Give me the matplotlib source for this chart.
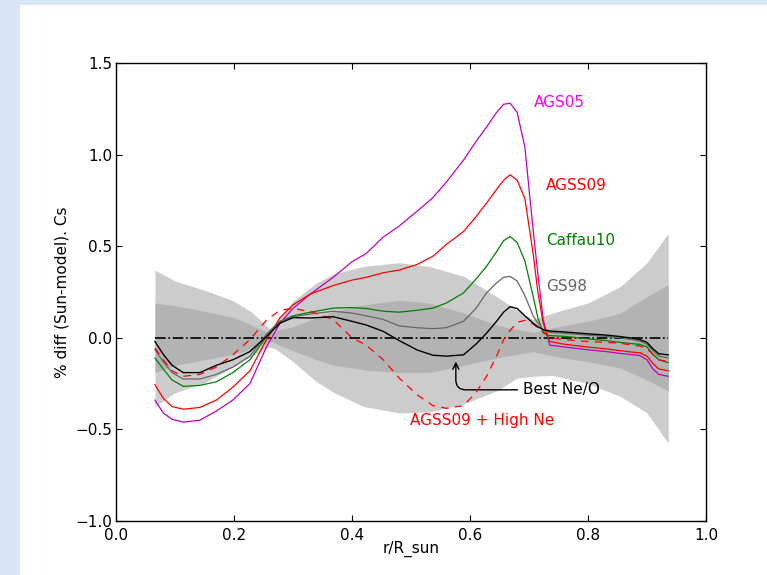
import matplotlib
matplotlib.use('Agg')
import matplotlib.pyplot as plt
from matplotlib.patches import Rectangle
import numpy as np

# radius grid for the model curves
r = [0.066, 0.08, 0.095, 0.114, 0.142, 0.17, 0.198, 0.227, 0.255, 0.278,
     0.30, 0.33, 0.368, 0.40, 0.424, 0.453, 0.48, 0.51, 0.537, 0.56,
     0.589, 0.61, 0.628, 0.645, 0.657, 0.668, 0.68, 0.693, 0.707, 0.715,
     0.724, 0.735, 0.76, 0.798, 0.83, 0.854, 0.875, 0.888, 0.9, 0.91,
     0.92, 0.936]

best_neo = [-0.02, -0.09, -0.15, -0.19, -0.19, -0.15, -0.12, -0.075, 0.007, 0.08,
            0.11, 0.108, 0.115, 0.09, 0.07, 0.035, -0.015, -0.066, -0.095, -0.1,
            -0.093, -0.035, 0.025, 0.09, 0.14, 0.17, 0.16, 0.12, 0.08, 0.06,
            0.045, 0.037, 0.032, 0.022, 0.015, 0.007, -0.002, -0.01, -0.025, -0.06,
            -0.087, -0.093]

gs98 = [-0.065, -0.13, -0.19, -0.225, -0.225, -0.2, -0.16, -0.1, 0.02, 0.09,
        0.115, 0.13, 0.145, 0.135, 0.12, 0.1, 0.065, 0.055, 0.05, 0.055,
        0.09, 0.16, 0.245, 0.3, 0.33, 0.335, 0.31, 0.23, 0.12, 0.08,
        0.045, 0.03, 0.025, 0.015, 0.008, 0.0, -0.01, -0.018, -0.035, -0.07,
        -0.1, -0.11]

caffau10 = [-0.11, -0.17, -0.23, -0.265, -0.26, -0.24, -0.19, -0.12, 0.007, 0.09,
            0.12, 0.14, 0.162, 0.165, 0.16, 0.145, 0.14, 0.15, 0.162, 0.19,
            0.245, 0.32, 0.39, 0.47, 0.53, 0.553, 0.52, 0.42, 0.226, 0.11,
            0.026, 0.012, 0.008, -0.005, -0.015, -0.025, -0.032, -0.036, -0.05, -0.09,
            -0.12, -0.135]

agss09 = [-0.256, -0.33, -0.375, -0.39, -0.38, -0.34, -0.27, -0.18, -0.01, 0.11,
          0.18, 0.24, 0.285, 0.315, 0.33, 0.355, 0.37, 0.4, 0.445, 0.51,
          0.58, 0.66, 0.735, 0.81, 0.86, 0.89, 0.86, 0.76, 0.46, 0.25,
          0.08, -0.02, -0.035, -0.05, -0.06, -0.07, -0.078, -0.082, -0.1, -0.14,
          -0.17, -0.18]

ags05 = [-0.34, -0.41, -0.445, -0.46, -0.45, -0.4, -0.34, -0.25, -0.05, 0.08,
         0.16, 0.24, 0.33, 0.415, 0.46, 0.55, 0.61, 0.69, 0.765, 0.85,
         0.97, 1.07, 1.15, 1.23, 1.275, 1.28, 1.23, 1.04, 0.59, 0.35,
         0.1, -0.04, -0.05, -0.065, -0.075, -0.085, -0.092, -0.097, -0.12, -0.17,
         -0.2, -0.21]

agss09_highne = [-0.055, -0.12, -0.18, -0.21, -0.2, -0.16, -0.093, -0.01, 0.097, 0.15,
                 0.16, 0.143, 0.1, 0.0, -0.04, -0.12, -0.22, -0.31, -0.37, -0.385,
                 -0.37, -0.3, -0.21, -0.1, -0.01, 0.04, 0.085, 0.095, 0.075, 0.055,
                 0.035, 0.0, -0.01, -0.02, -0.025, -0.03, -0.04, -0.045, -0.06, -0.09,
                 -0.12, -0.13]

# uncertainty bands
rb = [0.066, 0.1, 0.15, 0.2, 0.23, 0.25, 0.26, 0.27, 0.3, 0.34, 0.37, 0.42,
      0.48, 0.53, 0.59, 0.645, 0.68, 0.707, 0.74, 0.8, 0.855, 0.9, 0.936]
outer_hi = [0.37, 0.31, 0.26, 0.2, 0.14, 0.08, 0.05, 0.08, 0.2, 0.3, 0.35, 0.39,
            0.41, 0.39, 0.335, 0.225, 0.15, 0.1, 0.135, 0.19, 0.28, 0.41, 0.57]
inner_hi = [0.19, 0.175, 0.145, 0.11, 0.07, 0.04, 0.03, 0.04, 0.06, 0.11, 0.145, 0.18,
            0.205, 0.19, 0.135, 0.07, 0.045, 0.03, 0.055, 0.09, 0.135, 0.225, 0.29]
inner_lo = [-0.19, -0.15, -0.12, -0.09, -0.06, -0.035, -0.02, -0.03, -0.07, -0.12, -0.15, -0.175,
            -0.19, -0.19, -0.15, -0.11, -0.09, -0.075, -0.1, -0.13, -0.165, -0.23, -0.29]
outer_lo = [-0.375, -0.3, -0.246, -0.156, -0.1, -0.065, -0.05, -0.06, -0.13, -0.24, -0.3, -0.375,
            -0.41, -0.405, -0.36, -0.29, -0.22, -0.21, -0.205, -0.25, -0.32, -0.41, -0.575]

plt.rcParams['font.family'] = 'DejaVu Sans'
plt.rcParams['font.size'] = 11

fig = plt.figure(figsize=(7.67, 5.75), dpi=100, facecolor='#d9e6f5')
fig.add_artist(Rectangle((20 / 767, 0), 1, 1 - 5 / 575, transform=fig.transFigure,
                         facecolor='white', edgecolor='none', zorder=-10))
ax = fig.add_axes([116 / 767, 1 - 521 / 575, 590 / 767, 458 / 575])

ax.fill_between(rb, outer_lo, outer_hi, color='0.8', lw=0, zorder=1)
ax.fill_between(rb, inner_lo, inner_hi, color='0.7', lw=0, zorder=2)
ax.plot([r[0], r[-1]], [0, 0], 'k-.', lw=1.2, zorder=3)

ax.plot(r, ags05, color='#bf00bf', lw=0.9, zorder=4)
ax.plot(r, agss09, color='#ff0000', lw=0.9, zorder=4)
ax.plot(r, caffau10, color='#008000', lw=0.9, zorder=4)
ax.plot(r, gs98, color='#666666', lw=0.9, zorder=4)
ax.plot(r, agss09_highne, color='#ff0000', lw=0.9, ls=(0, (6, 5)), zorder=4)
ax.plot(r, best_neo, color='k', lw=1.0, zorder=5)

ax.text(0.708, 1.283, 'AGS05', color='#ff00ff', va='center', ha='left')
ax.text(0.729, 0.83, 'AGSS09', color='#ff0000', va='center', ha='left')
ax.text(0.729, 0.53, 'Caffau10', color='#008000', va='center', ha='left')
ax.text(0.729, 0.28, 'GS98', color='#666666', va='center', ha='left')
ax.text(0.498, -0.453, 'AGSS09 + High Ne', color='#ff0000', va='center', ha='left')
ax.annotate('Best Ne/O', xy=(0.576, -0.115), xytext=(0.69, -0.284),
            va='center', ha='left',
            arrowprops=dict(arrowstyle='->', color='k', lw=1.0,
                            connectionstyle='angle,angleA=0,angleB=90,rad=10'))

ax.set_xlim(0, 1)
ax.set_ylim(-1.0, 1.5)
ax.set_xticks(np.arange(0, 1.01, 0.2))
ax.set_yticks(np.arange(-1.0, 1.51, 0.5))
ax.tick_params(direction='in', top=True, right=True, length=4, width=0.8)
ax.tick_params(axis='y', pad=2.5)
ax.tick_params(axis='x', pad=5)
ax.set_xlabel('r/R_sun')
ax.set_ylabel('% diff (Sun-model). Cs')
ax.xaxis.set_label_coords(0.5, -0.044)
ax.yaxis.set_label_coords(-0.078, 0.5)
for s in ax.spines.values():
    s.set_linewidth(1.0)

fig.savefig('out.png', dpi=100, facecolor=fig.get_facecolor())
